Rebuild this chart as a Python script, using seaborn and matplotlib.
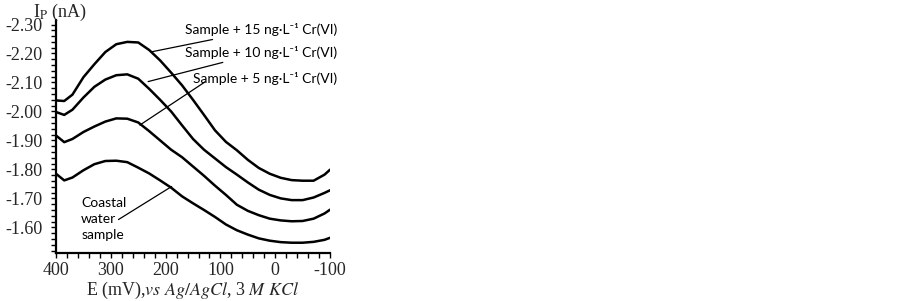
import numpy as np
import pandas as pd
import matplotlib
matplotlib.use("Agg")
import matplotlib.pyplot as plt
import seaborn as sns
from matplotlib.ticker import MultipleLocator, FormatStrFormatter

# -------------------------
# Data
# -------------------------
potential = [400, 385, 370, 350, 330, 310, 290, 270, 250, 230, 210, 190, 170,
             150, 130, 110, 90, 70, 50, 30, 10, -10, -30, -50, -70, -90, -100]

sample_15 = [-2.038, -2.036, -2.058, -2.118, -2.163, -2.205, -2.232, -2.240, -2.238,
             -2.212, -2.176, -2.134, -2.090, -2.040, -1.988, -1.935, -1.895, -1.866,
             -1.833, -1.805, -1.785, -1.771, -1.763, -1.761, -1.761, -1.782, -1.799]
sample_10 = [-1.998, -1.988, -2.006, -2.048, -2.085, -2.110, -2.125, -2.128, -2.113,
             -2.078, -2.040, -2.000, -1.952, -1.905, -1.868, -1.838, -1.808, -1.782,
             -1.755, -1.730, -1.712, -1.700, -1.694, -1.694, -1.703, -1.719, -1.728]
sample_5 = [-1.917, -1.894, -1.905, -1.929, -1.948, -1.965, -1.976, -1.975, -1.962,
            -1.932, -1.900, -1.868, -1.842, -1.810, -1.778, -1.744, -1.712, -1.678,
            -1.657, -1.642, -1.630, -1.624, -1.621, -1.622, -1.630, -1.648, -1.661]
coastal = [-1.785, -1.762, -1.772, -1.797, -1.818, -1.829, -1.830, -1.825, -1.806,
           -1.786, -1.762, -1.737, -1.707, -1.683, -1.660, -1.636, -1.610, -1.590,
           -1.575, -1.562, -1.554, -1.549, -1.547, -1.547, -1.550, -1.557, -1.564]

series_names = ["Sample + 15 ng\u00b7L\u207b\u00b9 Cr(VI)",
                "Sample + 10 ng\u00b7L\u207b\u00b9 Cr(VI)",
                "Sample + 5 ng\u00b7L\u207b\u00b9 Cr(VI)",
                "Coastal\nwater\nsample"]

df = pd.concat([
    pd.DataFrame({"E": potential, "Ip": vals, "series": name})
    for name, vals in zip(series_names, [sample_15, sample_10, sample_5, coastal])
])

# -------------------------
# Style
# -------------------------
sns.set_style("white")
plt.rcParams["font.family"] = ["Liberation Serif", "DejaVu Serif"]
plt.rcParams["mathtext.fontset"] = "stix"
plt.rcParams["axes.unicode_minus"] = False

fig = plt.figure(figsize=(9.02, 3.01), dpi=100)
ax = fig.add_axes([0.0621, 0.158, 0.3038, 0.776])

sns.lineplot(data=df, x="E", y="Ip", hue="series", palette=["black"] * 4,
             sort=False, estimator=None, linewidth=1.8, legend=False, ax=ax)

ax.set_xlim(400, -100)
ax.set_ylim(-1.51, -2.316)

ax.xaxis.set_major_locator(MultipleLocator(100))
ax.xaxis.set_minor_locator(MultipleLocator(20))
ax.yaxis.set_major_locator(MultipleLocator(0.1))
ax.yaxis.set_minor_locator(MultipleLocator(0.02))
ax.yaxis.set_major_formatter(FormatStrFormatter("%.2f"))

ax.tick_params(axis="both", which="both", direction="out", length=3.5,
               width=1.0, color="black", labelsize=13)
ax.tick_params(axis="x", which="both", bottom=True, pad=3)
ax.tick_params(axis="y", which="both", left=True, pad=6)

sns.despine(ax=ax)
for side in ["left", "bottom"]:
    ax.spines[side].set_color("black")
    ax.spines[side].set_linewidth(1.6)

ax.set_xlabel("")
ax.set_ylabel("")
fig.text(0.213, 0.034, r"E (mV),$\it{vs\ Ag/AgCl}$, 3 $\it{M\ KCl}$",
         fontsize=13, ha="center", va="center")
fig.text(0.037, 0.96, r"I$_\mathrm{P}$ (nA)", fontsize=13, ha="left", va="center")

# -------------------------
# Annotations
# -------------------------
sans = ["Lato", "DejaVu Sans"]
ann = dict(fontsize=10, family=sans, va="center", ha="left", color="black")
line = dict(arrowstyle="-", color="black", lw=0.9, shrinkA=0, shrinkB=0)

ax.annotate(series_names[0], xy=(225, -2.206), xytext=(165, -2.282),
            arrowprops=line, **ann)
ax.annotate(series_names[1], xy=(232, -2.103), xytext=(165, -2.203),
            arrowprops=line, **ann)
ax.annotate("", xy=(247, -1.953), xytext=(128, -2.102), arrowprops=line)
ax.text(150, -2.112, series_names[2], **ann)
ax.annotate("", xy=(189, -1.741), xytext=(286, -1.627), arrowprops=line)
ax.text(354, -1.630, series_names[3], linespacing=1.4, **ann)

plt.savefig("out.png", dpi=100)
